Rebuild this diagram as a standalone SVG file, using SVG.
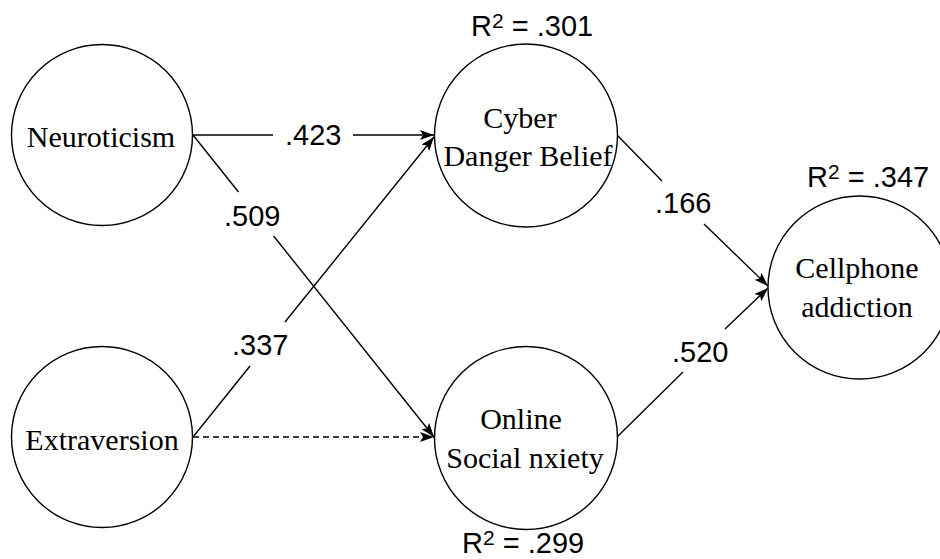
<svg xmlns="http://www.w3.org/2000/svg" width="940" height="559" viewBox="0 0 940 559">
<defs>
<marker id="ah" viewBox="0 0 14 10" refX="14" refY="5" markerWidth="14" markerHeight="10" markerUnits="userSpaceOnUse" orient="auto">
<path d="M0,0 L14,5 L0,10 L3,5 Z" fill="#000"/>
</marker>
<style>
.node{fill:#fff;stroke:#000;stroke-width:1.4}
.nt{font-family:"Liberation Serif","Times New Roman",serif;font-size:30px;fill:#000;text-anchor:middle}
.lb{font-family:"Liberation Sans",Arial,sans-serif;font-size:29px;fill:#000}
.sup{font-size:21px}
.ln{stroke:#000;stroke-width:1.4;fill:none}
.arr{marker-end:url(#ah)}
.dash{stroke-dasharray:6 4}
</style>
</defs>
<rect width="940" height="559" fill="#fff"/>
<g id="connectors">
<line class="ln" x1="193" y1="135" x2="273" y2="135"/>
<line class="ln arr" x1="353" y1="135" x2="434" y2="135"/>
<line class="ln" x1="193" y1="135" x2="238.5" y2="192"/>
<line class="ln arr" x1="273.6" y1="236" x2="434" y2="437"/>
<line class="ln" x1="193" y1="437" x2="250" y2="366"/>
<line class="ln arr" x1="285" y1="322" x2="434" y2="137"/>
<line class="ln arr dash" x1="193" y1="437" x2="434" y2="437"/>
<line class="ln" x1="617" y1="135" x2="662" y2="181"/>
<line class="ln arr" x1="704" y1="224" x2="768" y2="286"/>
<line class="ln" x1="617" y1="437" x2="683" y2="372"/>
<line class="ln arr" x1="725" y1="329" x2="768" y2="288"/>
<text class="lb" x="285" y="145">.423</text>
<text class="lb" x="224" y="226">.509</text>
<text class="lb" x="232" y="355">.337</text>
<text class="lb" x="655" y="213">.166</text>
<text class="lb" x="672" y="362">.520</text>
</g>
<g id="neuroticism">
<circle class="node" cx="102" cy="135" r="90.5"/>
<text class="nt" x="101" y="147">Neuroticism</text>
</g>
<g id="extraversion">
<circle class="node" cx="102" cy="437" r="90.5"/>
<text class="nt" x="102" y="450">Extraversion</text>
</g>
<g id="cyber">
<circle class="node" cx="526" cy="135.5" r="91.5"/>
<text class="nt" x="520" y="128">Cyber</text>
<text class="nt" x="528" y="166">Danger Belief</text>
<text class="lb" x="471" y="36">R<tspan class="sup" dy="-8">2</tspan><tspan dy="8"> = .301</tspan></text>
</g>
<g id="online">
<circle class="node" cx="526" cy="438" r="91.5"/>
<text class="nt" x="521" y="429">Online</text>
<text class="nt" x="525" y="468">Social nxiety</text>
<text class="lb" x="462" y="553">R<tspan class="sup" dy="-8">2</tspan><tspan dy="8"> = .299</tspan></text>
</g>
<g id="cellphone">
<circle class="node" cx="859.5" cy="287.5" r="91.5"/>
<text class="nt" x="857" y="278">Cellphone</text>
<text class="nt" x="857" y="317">addiction</text>
<text class="lb" x="807" y="187">R<tspan class="sup" dy="-8">2</tspan><tspan dy="8"> = .347</tspan></text>
</g>
</svg>
